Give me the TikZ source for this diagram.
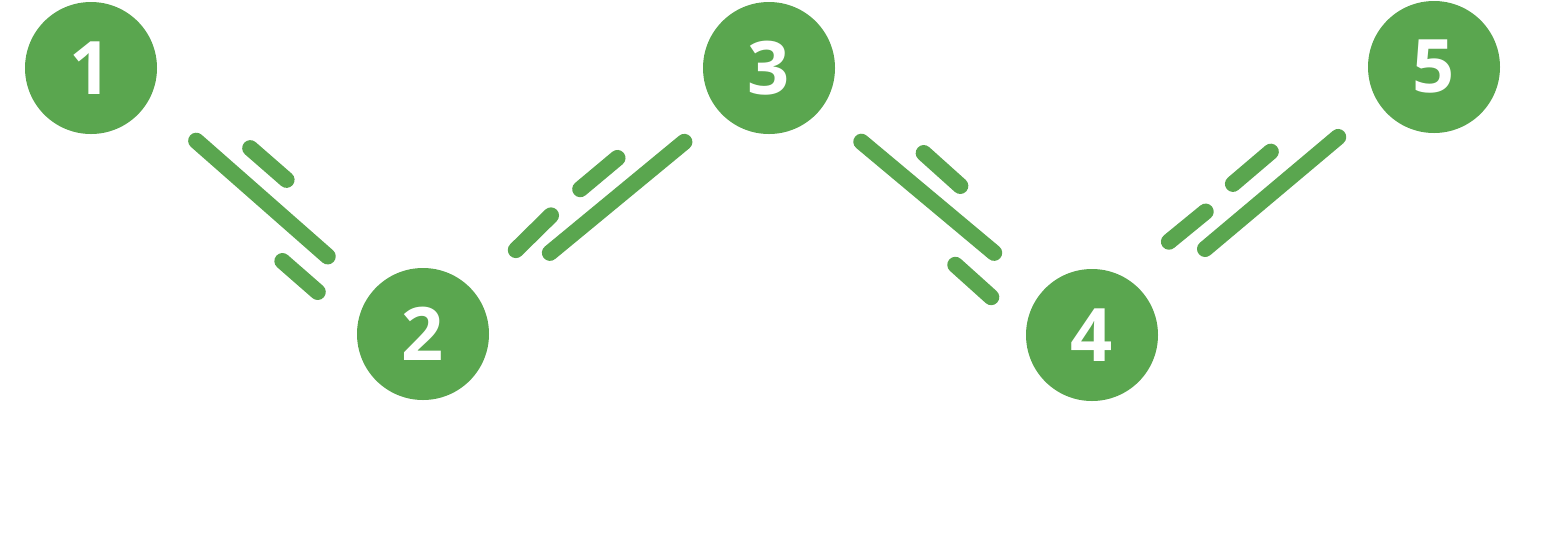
\documentclass[tikz,border=0pt]{standalone}
\usepackage{fontspec}
\setmainfont{Open Sans}
\usetikzlibrary{calc}
\definecolor{stepgreen}{HTML}{5AA64F}
\begin{document}
\begin{tikzpicture}[
    hopline/.style={draw=stepgreen, line width=4.6pt, line cap=round}
  ]
  \useasboundingbox (0,0) rectangle (15.61,5.33);

  \begin{scope}[every node/.style={circle, fill=stepgreen, minimum size=1.32cm, inner sep=0pt,
      text=white, font=\fontsize{21}{24}\selectfont\bfseries}]
    \node (1) at (0.91,4.65)  {1};
    \node (2) at (4.23,1.99)  {2};
    \node (3) at (7.69,4.65)  {3};
    \node (4) at (10.92,1.98) {4};
    \node (5) at (14.34,4.66) {5};
  \end{scope}

  % 1 -- 2
  \draw[hopline] ($(1)!0.300!(2)!0.09cm!90:(2)$)  -- ($(1)!0.711!(2)!0.01cm!90:(2)$);
  \draw[hopline] ($(1)!0.410!(2)!0.37cm!90:(2)$)  -- ($(1)!0.523!(2)!0.35cm!90:(2)$);
  \draw[hopline] ($(1)!0.635!(2)!0.31cm!-90:(2)$) -- ($(1)!0.745!(2)!0.33cm!-90:(2)$);

  % 2 -- 3
  \draw[hopline] ($(2)!0.344!(3)!0.13cm!-90:(3)$) -- ($(2)!0.743!(3)!0.07cm!-90:(3)$);
  \draw[hopline] ($(2)!0.488!(3)!0.19cm!90:(3)$)  -- ($(2)!0.599!(3)!0.21cm!90:(3)$);
  \draw[hopline] ($(2)!0.286!(3)!0.10cm!90:(3)$)  -- ($(2)!0.398!(3)!0.16cm!90:(3)$);

  % 3 -- 4
  \draw[hopline] ($(3)!0.282!(4)!0.02cm!90:(4)$)  -- ($(3)!0.695!(4)!0.01cm!90:(4)$);
  \draw[hopline] ($(3)!0.414!(4)!0.33cm!90:(4)$)  -- ($(3)!0.531!(4)!0.31cm!90:(4)$);
  \draw[hopline] ($(3)!0.642!(4)!0.33cm!-90:(4)$) -- ($(3)!0.757!(4)!0.35cm!-90:(4)$);

  % 4 -- 5
  \draw[hopline] ($(4)!0.327!(5)!0.02cm!-90:(5)$) -- ($(4)!0.727!(5)!0.04cm!90:(5)$);
  \draw[hopline] ($(4)!0.470!(5)!0.32cm!90:(5)$)  -- ($(4)!0.584!(5)!0.34cm!90:(5)$);
  \draw[hopline] ($(4)!0.272!(5)!0.26cm!90:(5)$)  -- ($(4)!0.381!(5)!0.27cm!90:(5)$);

\end{tikzpicture}
\end{document}
